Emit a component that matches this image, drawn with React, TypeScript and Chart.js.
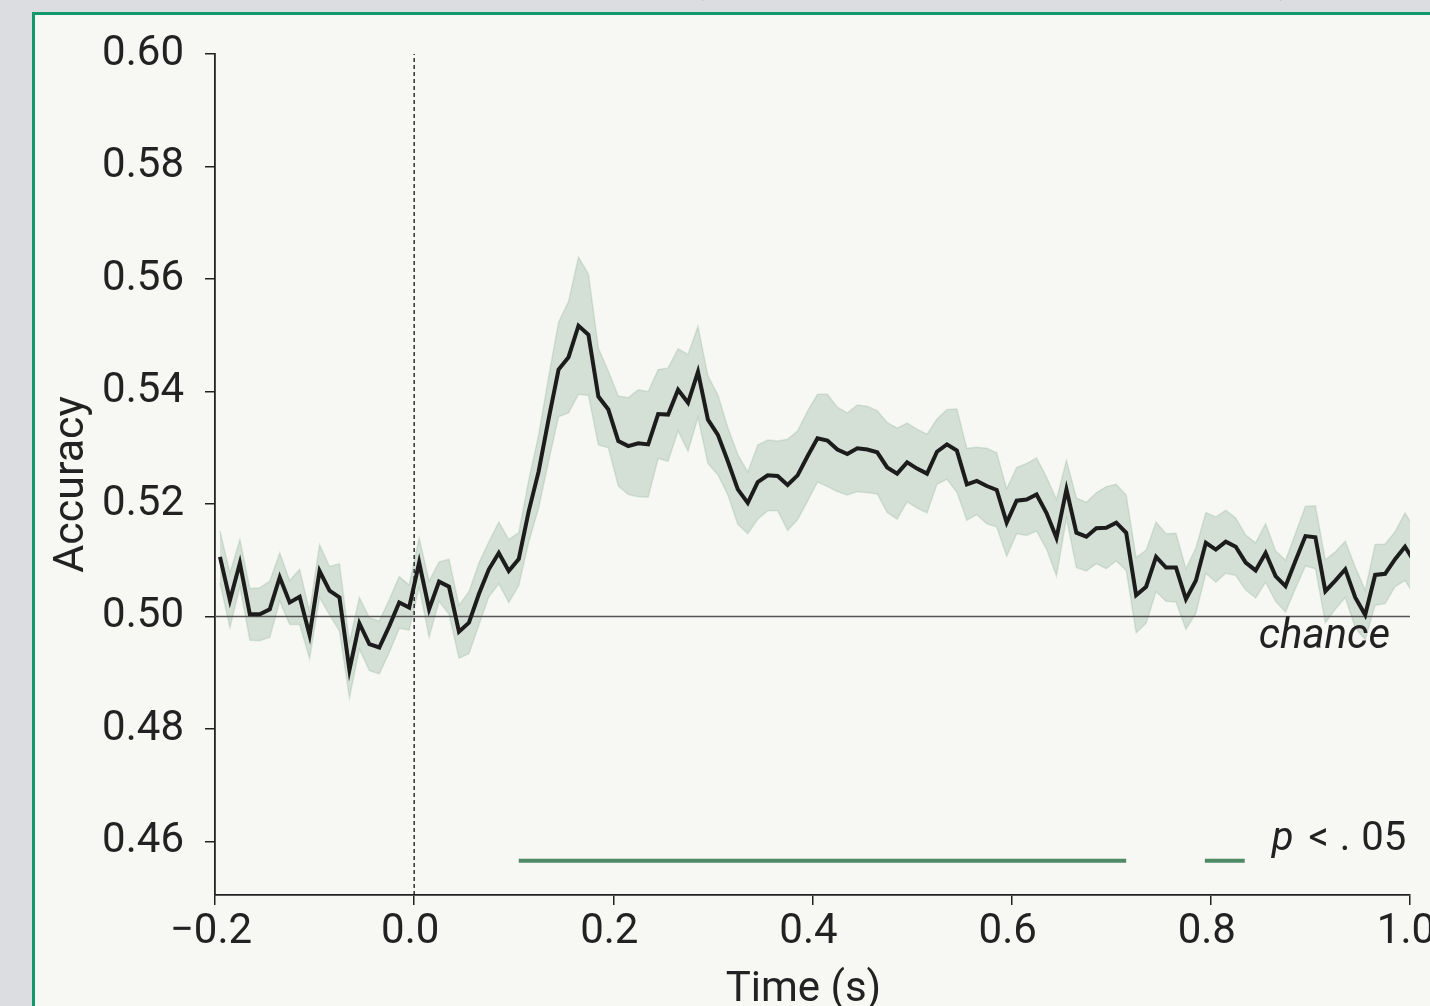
import React, { useEffect, useRef } from "react";
import { Chart, registerables } from "chart.js";

Chart.register(...registerables);

// Sample times: first sample and spacing (10 ms grid, centred on half-steps)
const T_START = -0.195;
const T_STEP = 0.01;

// Mean decoding accuracy at each sample
const MEAN = [
  0.5106, 0.5029, 0.5095, 0.5004, 0.5004, 0.5013, 0.507, 0.5025, 0.5035, 0.4967,
  0.5081, 0.5046, 0.5034, 0.4905, 0.4988, 0.4951, 0.4945, 0.4983, 0.5025, 0.5016,
  0.5096, 0.5013, 0.5062, 0.5053, 0.4973, 0.4989, 0.504, 0.5084, 0.5113, 0.5081,
  0.5102, 0.5187, 0.5258, 0.5351, 0.5439, 0.5461, 0.5517, 0.5501, 0.5391, 0.5368,
  0.5312, 0.5303, 0.5308, 0.5306, 0.536, 0.5359, 0.5403, 0.538, 0.5435, 0.535,
  0.5323, 0.5276, 0.5226, 0.5202, 0.5239, 0.5251, 0.525, 0.5234, 0.5251, 0.5285,
  0.5317, 0.5313, 0.5297, 0.5289, 0.5299, 0.5297, 0.5292, 0.5265, 0.5254, 0.5274,
  0.5263, 0.5254, 0.5293, 0.5306, 0.5295, 0.5235, 0.5241, 0.5232, 0.5225, 0.5167,
  0.5206, 0.5208, 0.5217, 0.5184, 0.514, 0.5226, 0.5149, 0.5142, 0.5157, 0.5158,
  0.5167, 0.5149, 0.5038, 0.5053, 0.5106, 0.5087, 0.5087, 0.5031, 0.5064, 0.5131,
  0.5119, 0.5133, 0.5124, 0.5096, 0.5082, 0.5113, 0.5072, 0.5054, 0.5099, 0.5143,
  0.5141, 0.5045, 0.5064, 0.5084, 0.5034, 0.5003, 0.5074, 0.5076, 0.5102, 0.5124,
  0.5096,
];

// Half-width of the shaded error band at each sample
const SEM = [
  0.0046, 0.0049, 0.0042, 0.0046, 0.0047, 0.005, 0.0043, 0.0039, 0.0049, 0.0042,
  0.0047, 0.0043, 0.006, 0.005, 0.0046, 0.0047, 0.0047, 0.0047, 0.0046, 0.004,
  0.0044, 0.005, 0.0035, 0.0049, 0.0047, 0.0055, 0.0055, 0.0049, 0.0055, 0.0056,
  0.0047, 0.0055, 0.0065, 0.0075, 0.0084, 0.0099, 0.0122, 0.0108, 0.0086, 0.0068,
  0.008, 0.0086, 0.0095, 0.0094, 0.0079, 0.0083, 0.0073, 0.0086, 0.0081, 0.0078,
  0.0071, 0.006, 0.0062, 0.0055, 0.0066, 0.0063, 0.0062, 0.0081, 0.0079, 0.008,
  0.0078, 0.0082, 0.0075, 0.0073, 0.0077, 0.0077, 0.0074, 0.008, 0.0081, 0.007,
  0.007, 0.007, 0.0058, 0.0062, 0.0074, 0.0064, 0.006, 0.0067, 0.0066, 0.006,
  0.0059, 0.0064, 0.0065, 0.0064, 0.0068, 0.0052, 0.0062, 0.0061, 0.0063, 0.0073,
  0.0068, 0.0067, 0.0067, 0.0065, 0.0062, 0.006, 0.0061, 0.0054, 0.0058, 0.0054,
  0.0058, 0.0056, 0.0051, 0.0049, 0.0049, 0.0052, 0.0045, 0.0046, 0.0049, 0.0053,
  0.0056, 0.0056, 0.0051, 0.005, 0.0054, 0.0044, 0.0054, 0.0053, 0.0049, 0.006,
  0.006,
];

const X_TICKS = [-0.2, 0.0, 0.2, 0.4, 0.6, 0.8, 1.0];
const Y_TICKS = [0.46, 0.48, 0.5, 0.52, 0.54, 0.56, 0.58, 0.6];
const X_MIN = -0.2;
const X_MAX = 1.0;
const Y_MIN = 0.4505;
const Y_MAX = 0.6;

const CHANCE = 0.5;
const ONSET = 0.0;
// Significant cluster (p < .05)
const SIG_START = 0.105;
const SIG_END = 0.715;
const SIG_LEVEL = 0.4566;
const LEGEND_START = 0.794;
const LEGEND_END = 0.834;
const LEGEND_TEXT_Y = 0.4603;

const X_TITLE = "Time (s)";
const Y_TITLE = "Accuracy";

const FONT = "Roboto";
const INK = "#222222";
const GREEN = "#4e8a63";
const BAND = "rgba(74,128,96,0.2)";

const textPlugin = {
  id: "annotText",
  afterDraw(chart: any) {
    const { ctx, scales, chartArea } = chart;
    const xs = scales.x;
    const ys = scales.y;
    ctx.save();
    ctx.fillStyle = INK;

    // axis titles
    ctx.font = `42px ${FONT}`;
    ctx.textAlign = "center";
    ctx.textBaseline = "alphabetic";
    ctx.fillText(X_TITLE, (chartArea.left + chartArea.right) / 2 - 9, chartArea.bottom + 106);

    ctx.save();
    ctx.translate(chartArea.left - 143, (chartArea.top + chartArea.bottom) / 2 + 10);
    ctx.rotate(-Math.PI / 2);
    ctx.font = `43px ${FONT}`;
    ctx.textAlign = "center";
    ctx.textBaseline = "middle";
    ctx.fillText(Y_TITLE, 0, 0);
    ctx.restore();

    // "chance" label
    ctx.font = `italic 42px ${FONT}`;
    ctx.textAlign = "right";
    ctx.textBaseline = "alphabetic";
    ctx.fillText("chance", xs.getPixelForValue(X_MAX) - 20, ys.getPixelForValue(CHANCE) + 31);

    // "p < .05" legend label
    const y = ys.getPixelForValue(LEGEND_TEXT_Y);
    let x = xs.getPixelForValue(LEGEND_END) + 27;
    ctx.textAlign = "left";
    ctx.textBaseline = "middle";
    ctx.font = `italic 40px ${FONT}`;
    ctx.fillText("p", x, y);
    x += ctx.measureText("p").width + 15;
    ctx.font = `40px ${FONT}`;
    ctx.fillText("<", x, y);
    x += ctx.measureText("<").width + 11;
    ctx.fillText(".", x, y);
    x += ctx.measureText(".").width + 11;
    ctx.fillText("05", x, y);
    ctx.restore();
  },
};

export default function App() {
  const ref = useRef<HTMLCanvasElement | null>(null);

  useEffect(() => {
    if (!ref.current) return;
    const times = MEAN.map((_, i) => T_START + i * T_STEP);
    const meanPts = MEAN.map((v, i) => ({ x: times[i], y: v }));
    const upperPts = MEAN.map((v, i) => ({ x: times[i], y: v + SEM[i] }));
    const lowerPts = MEAN.map((v, i) => ({ x: times[i], y: v - SEM[i] }));

    const common = { pointRadius: 0, pointHoverRadius: 0, tension: 0 };

    const chart = new Chart(ref.current, {
      type: "line",
      data: {
        datasets: [
          {
            data: upperPts,
            borderColor: "rgba(74,128,96,0.16)",
            borderWidth: 1.5,
            backgroundColor: BAND,
            fill: "+1",
            order: 10,
            clip: 0,
            ...common,
          },
          {
            data: lowerPts,
            borderColor: "rgba(74,128,96,0.16)",
            borderWidth: 1.5,
            fill: false,
            order: 9,
            clip: 0,
            ...common,
          },
          {
            data: [
              { x: X_MIN, y: CHANCE },
              { x: X_MAX, y: CHANCE },
            ],
            borderColor: "#555555",
            borderWidth: 1.5,
            fill: false,
            order: 5,
            ...common,
          },
          {
            data: [
              { x: ONSET, y: Y_MIN },
              { x: ONSET, y: Y_MAX },
            ],
            borderColor: "#111111",
            borderWidth: 1.3,
            borderDash: [4, 3],
            fill: false,
            order: 4,
            ...common,
          },
          {
            data: meanPts,
            borderColor: "#1c1c1c",
            borderWidth: 4,
            fill: false,
            order: 1,
            clip: 0,
            ...common,
          },
          {
            data: [
              { x: SIG_START, y: SIG_LEVEL },
              { x: SIG_END, y: SIG_LEVEL },
            ],
            borderColor: GREEN,
            borderWidth: 4,
            borderCapStyle: "butt",
            fill: false,
            order: 2,
            ...common,
          },
          {
            data: [
              { x: LEGEND_START, y: SIG_LEVEL },
              { x: LEGEND_END, y: SIG_LEVEL },
            ],
            borderColor: GREEN,
            borderWidth: 4,
            borderCapStyle: "butt",
            fill: false,
            order: 2,
            ...common,
          },
        ],
      },
      options: {
        responsive: false,
        animation: false,
        events: [],
        layout: { padding: { left: 0, right: 50, top: 39, bottom: 0 } },
        plugins: {
          legend: { display: false },
          tooltip: { enabled: false },
          title: { display: false },
        },
        scales: {
          x: {
            type: "linear",
            min: X_MIN,
            max: X_MAX,
            afterBuildTicks: (s: any) => {
              s.ticks = X_TICKS.map((v) => ({ value: v }));
            },
            afterFit: (s: any) => {
              s.height = 111;
            },
            grid: {
              display: true,
              drawOnChartArea: false,
              drawTicks: true,
              tickLength: 10,
              color: INK,
              lineWidth: 1.5,
            },
            border: { display: true, color: INK, width: 1.8 },
            ticks: {
              color: INK,
              font: { family: FONT, size: 42 },
              padding: 2,
              labelOffset: -4,
              maxRotation: 0,
              autoSkip: false,
              callback: (v: any) => {
                const n = Number(v);
                return n < 0 ? "\u2212" + Math.abs(n).toFixed(1) : n.toFixed(1);
              },
            },
            title: { display: false },
          },
          y: {
            type: "linear",
            min: Y_MIN,
            max: Y_MAX,
            afterBuildTicks: (s: any) => {
              s.ticks = Y_TICKS.map((v) => ({ value: v }));
            },
            afterFit: (s: any) => {
              s.width = 180;
              s.paddingTop = 0;
              s.paddingBottom = 0;
            },
            grid: {
              display: true,
              drawOnChartArea: false,
              drawTicks: true,
              tickLength: 10,
              color: INK,
              lineWidth: 1.5,
            },
            border: { display: true, color: INK, width: 1.8 },
            ticks: {
              color: INK,
              font: { family: FONT, size: 42 },
              padding: 21,
              autoSkip: false,
              callback: (v: any) => Number(v).toFixed(2),
            },
            title: { display: false },
          },
        },
      },
      plugins: [textPlugin],
    } as any);

    return () => chart.destroy();
  }, []);

  return (
    <div
      style={{
        position: "fixed",
        inset: 0,
        background: "#dcdde0",
        overflow: "hidden",
      }}
    >
      <div
        style={{
          position: "absolute",
          top: -46,
          left: 0,
          width: 1460,
          textAlign: "center",
          fontFamily: FONT,
          fontSize: 40,
          lineHeight: "48px",
          color: INK,
          whiteSpace: "nowrap",
        }}
      >
        Decoding accuracy over time (mean ± SEM across participants)
      </div>
      <div
        style={{
          position: "absolute",
          left: 32,
          top: 12,
          width: 1500,
          height: 1100,
          boxSizing: "border-box",
          border: "3px solid #12996b",
          background: "#f7f8f4",
        }}
      >
        <canvas
          ref={ref}
          width={1425}
          height={991}
          style={{ position: "absolute", left: 0, top: 0, width: 1425, height: 991 }}
        />
      </div>
    </div>
  );
}
